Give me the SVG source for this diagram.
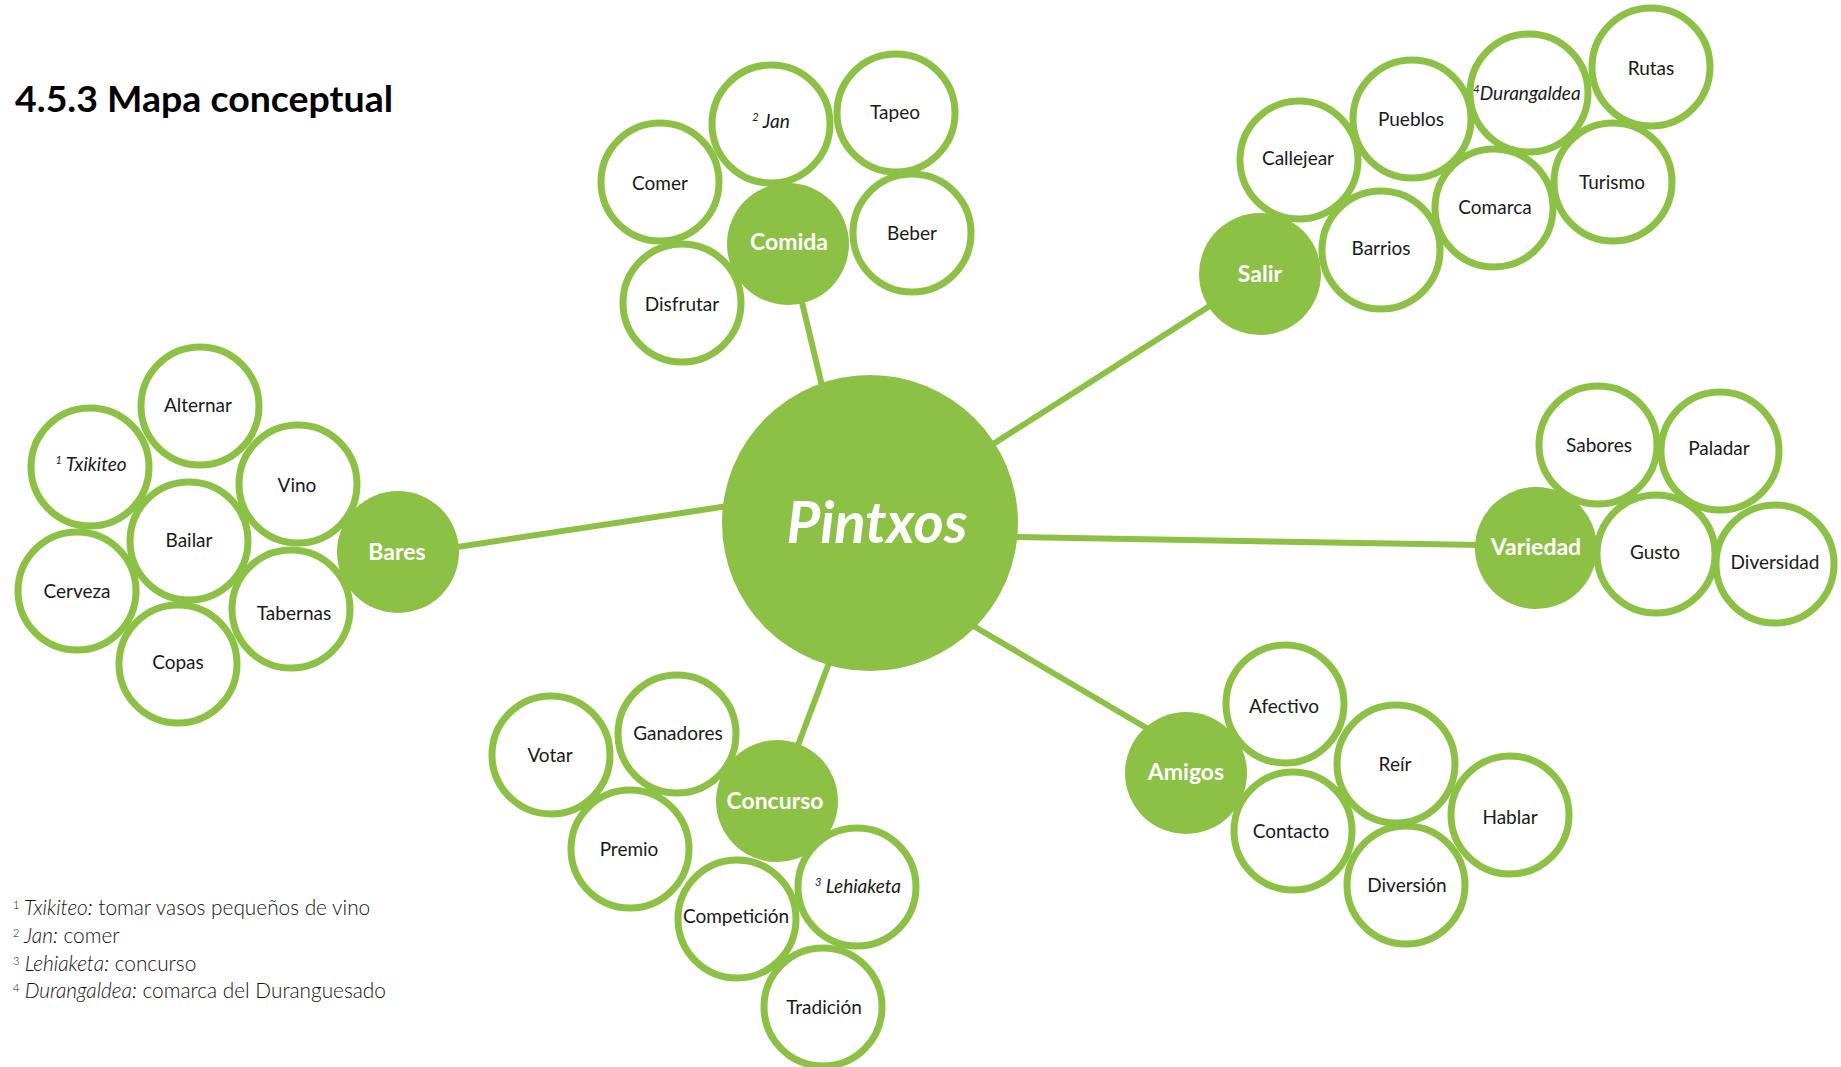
<svg xmlns="http://www.w3.org/2000/svg" width="1841" height="1067" viewBox="0 0 1841 1067">
<style>
.ring{fill:#fff;stroke:#8DC145;stroke-width:7}
.hub{fill:#8DC145}
.conn{stroke:#8DC145;stroke-width:6;fill:none;stroke-linecap:butt}
.lbl{font-family:Lato,"Open Sans",sans-serif;font-size:19px;fill:#1a1a1a;text-anchor:middle}
.it{font-style:italic}
.sup{font-size:11px}
.hubl{font-family:Lato,"Open Sans",sans-serif;font-weight:bold;font-size:23px;fill:#fff;text-anchor:middle}
.title{font-family:Lato,"Open Sans",sans-serif;font-weight:bold;font-size:37px;fill:#000}
.note{font-family:Lato,"Open Sans",sans-serif;font-weight:300;font-size:20.8px;fill:#111}
</style>
<rect width="1841" height="1067" fill="#fff"/>
<text class="title" x="15" y="112" textLength="378" lengthAdjust="spacingAndGlyphs">4.5.3 Mapa conceptual</text>

<g id="connectors">
<line class="conn" x1="788" y1="244" x2="823" y2="390"/>
<line class="conn" x1="990" y1="446" x2="1260" y2="274"/>
<line class="conn" x1="398" y1="556" x2="728" y2="506"/>
<line class="conn" x1="1012" y1="537" x2="1536" y2="546"/>
<line class="conn" x1="970" y1="624" x2="1160" y2="736"/>
<line class="conn" x1="832" y1="655" x2="777" y2="801"/>
</g>

<g id="pintxos">
<circle class="hub" cx="870" cy="523" r="148"/>
<text x="877" y="543" style="font-family:Lato,'Open Sans',sans-serif;font-style:italic;font-weight:bold;font-size:58px;fill:#fff;text-anchor:middle">Pintxos</text>
</g>

<g id="comida-branch">
<g id="comida"><circle class="hub" cx="788" cy="244" r="61"/><text class="hubl" x="789" y="250">Comida</text></g>
<g id="comer"><circle class="ring" cx="660" cy="182" r="59"/><text class="lbl" x="660" y="190">Comer</text></g>
<g id="jan"><circle class="ring" cx="771" cy="124" r="59"/><text class="lbl it" x="771" y="128"><tspan class="sup" dy="-7">2</tspan><tspan dy="7"> Jan</tspan></text></g>
<g id="tapeo"><circle class="ring" cx="896" cy="113" r="59"/><text class="lbl" x="895" y="119">Tapeo</text></g>
<g id="beber"><circle class="ring" cx="912" cy="233" r="59"/><text class="lbl" x="912" y="240">Beber</text></g>
<g id="disfrutar"><circle class="ring" cx="682" cy="303" r="59"/><text class="lbl" x="682" y="311">Disfrutar</text></g>
</g>

<g id="salir-branch">
<g id="salir"><circle class="hub" cx="1260" cy="274" r="61"/><text class="hubl" x="1260" y="282">Salir</text></g>
<g id="callejear"><circle class="ring" cx="1299" cy="160" r="59"/><text class="lbl" x="1298" y="165">Callejear</text></g>
<g id="pueblos"><circle class="ring" cx="1412" cy="119" r="59"/><text class="lbl" x="1411" y="126">Pueblos</text></g>
<g id="durangaldea"><circle class="ring" cx="1529" cy="93" r="59"/><text class="lbl it" x="1527" y="100"><tspan class="sup" dy="-7">4</tspan><tspan dy="7">Durangaldea</tspan></text></g>
<g id="rutas"><circle class="ring" cx="1651" cy="67" r="59"/><text class="lbl" x="1651" y="75">Rutas</text></g>
<g id="turismo"><circle class="ring" cx="1613" cy="182" r="59"/><text class="lbl" x="1612" y="189">Turismo</text></g>
<g id="comarca"><circle class="ring" cx="1494" cy="208" r="59"/><text class="lbl" x="1495" y="214">Comarca</text></g>
<g id="barrios"><circle class="ring" cx="1381" cy="250" r="59"/><text class="lbl" x="1381" y="255">Barrios</text></g>
</g>

<g id="bares-branch">
<g id="bares"><circle class="hub" cx="398" cy="552" r="61"/><text class="hubl" x="397" y="560">Bares</text></g>
<g id="alternar"><circle class="ring" cx="200" cy="406" r="59"/><text class="lbl" x="198" y="412">Alternar</text></g>
<g id="txikiteo"><circle class="ring" cx="90" cy="467" r="59"/><text class="lbl it" x="91" y="471"><tspan class="sup" dy="-7">1</tspan><tspan dy="7"> Txikiteo</tspan></text></g>
<g id="vino"><circle class="ring" cx="298" cy="484" r="59"/><text class="lbl" x="297" y="492">Vino</text></g>
<g id="bailar"><circle class="ring" cx="189" cy="541" r="59"/><text class="lbl" x="189" y="547">Bailar</text></g>
<g id="cerveza"><circle class="ring" cx="77" cy="591" r="59"/><text class="lbl" x="77" y="598">Cerveza</text></g>
<g id="tabernas"><circle class="ring" cx="291" cy="609" r="59"/><text class="lbl" x="294" y="620">Tabernas</text></g>
<g id="copas"><circle class="ring" cx="178" cy="664" r="59"/><text class="lbl" x="178" y="669">Copas</text></g>
</g>

<g id="variedad-branch">
<g id="variedad"><circle class="hub" cx="1536" cy="548" r="61"/><text class="hubl" x="1536" y="555">Variedad</text></g>
<g id="sabores"><circle class="ring" cx="1598" cy="445" r="59"/><text class="lbl" x="1599" y="452">Sabores</text></g>
<g id="paladar"><circle class="ring" cx="1720" cy="451" r="59"/><text class="lbl" x="1719" y="455">Paladar</text></g>
<g id="gusto"><circle class="ring" cx="1656" cy="554" r="59"/><text class="lbl" x="1655" y="559">Gusto</text></g>
<g id="diversidad"><circle class="ring" cx="1775" cy="564" r="59"/><text class="lbl" x="1775" y="569">Diversidad</text></g>
</g>

<g id="amigos-branch">
<g id="amigos"><circle class="hub" cx="1186" cy="773" r="61"/><text class="hubl" x="1186" y="780">Amigos</text></g>
<g id="afectivo"><circle class="ring" cx="1285" cy="704" r="59"/><text class="lbl" x="1284" y="713">Afectivo</text></g>
<g id="reir"><circle class="ring" cx="1396" cy="764" r="59"/><text class="lbl" x="1395" y="771">Reír</text></g>
<g id="hablar"><circle class="ring" cx="1510" cy="815" r="59"/><text class="lbl" x="1510" y="824">Hablar</text></g>
<g id="contacto"><circle class="ring" cx="1293" cy="831" r="59"/><text class="lbl" x="1291" y="838">Contacto</text></g>
<g id="diversion"><circle class="ring" cx="1406" cy="885" r="59"/><text class="lbl" x="1407" y="892">Diversión</text></g>
</g>

<g id="concurso-branch">
<g id="concurso"><circle class="hub" cx="777" cy="801" r="61"/><text class="hubl" x="775" y="809">Concurso</text></g>
<g id="votar"><circle class="ring" cx="551" cy="755" r="59"/><text class="lbl" x="550" y="762">Votar</text></g>
<g id="ganadores"><circle class="ring" cx="677" cy="734" r="59"/><text class="lbl" x="678" y="740">Ganadores</text></g>
<g id="premio"><circle class="ring" cx="630" cy="849" r="59"/><text class="lbl" x="629" y="856">Premio</text></g>
<g id="competicion"><circle class="ring" cx="737" cy="919" r="59"/><text class="lbl" x="736" y="923">Competición</text></g>
<g id="lehiaketa"><circle class="ring" cx="857" cy="887" r="59"/><text class="lbl it" x="858" y="893"><tspan class="sup" dy="-7">3</tspan><tspan dy="7"> Lehiaketa</tspan></text></g>
<g id="tradicion"><circle class="ring" cx="823" cy="1007" r="59"/><text class="lbl" x="824" y="1014">Tradición</text></g>
</g>

<g id="footnotes">
<text class="note" x="13" y="915"><tspan class="sup" dy="-6">1</tspan><tspan dy="6" font-style="italic"> Txikiteo:</tspan> tomar vasos pequeños de vino</text>
<text class="note" x="13" y="943"><tspan class="sup" dy="-6">2</tspan><tspan dy="6" font-style="italic"> Jan:</tspan> comer</text>
<text class="note" x="13" y="971"><tspan class="sup" dy="-6">3</tspan><tspan dy="6" font-style="italic"> Lehiaketa:</tspan> concurso</text>
<text class="note" x="13" y="998"><tspan class="sup" dy="-6">4</tspan><tspan dy="6" font-style="italic"> Durangaldea:</tspan> comarca del Duranguesado</text>
</g>
</svg>
